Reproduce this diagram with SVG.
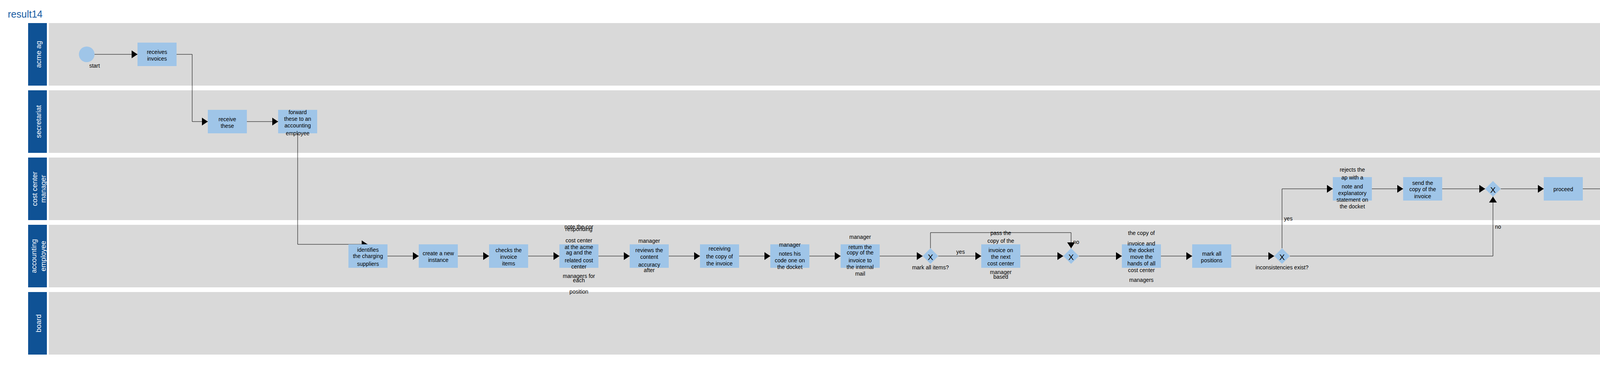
<svg xmlns="http://www.w3.org/2000/svg" width="7339" height="949" viewBox="0 0 7339 949">
<style>
.lane{fill:#d9d9d9}
.head{fill:#0f5295}
.hl{fill:#fff;font-family:"Liberation Sans",Arial,sans-serif;font-size:18px;text-anchor:middle;dominant-baseline:central}
.task{fill:#9fc5e8}
.t{font-family:"Liberation Sans",Arial,sans-serif;font-size:14px;text-anchor:middle;fill:#000}
.lbl{font-family:"Liberation Sans",Arial,sans-serif;font-size:14px;text-anchor:middle;fill:#000}
.x{font-family:"Liberation Sans",Arial,sans-serif;font-size:21px;text-anchor:middle;fill:#000}
.c{fill:none;stroke:#000;stroke-width:1;marker-end:url(#arr)}
.title{font-family:"Liberation Sans",Arial,sans-serif;font-size:25px;fill:#1a5ca3}
</style>
<defs>
<marker id="arr" markerUnits="userSpaceOnUse" markerWidth="16" markerHeight="21" refX="15" refY="10" orient="auto">
<path d="M0,0 L15,10 L0,20 Z" fill="#000"/>
</marker>
</defs>
<rect width="7339" height="949" fill="#fff"/>
<text class="title" x="20" y="45">result14</text>

<g id="lanes">
<rect class="head" x="72" y="59" width="48" height="160"/><rect class="lane" x="125" y="59" width="7196" height="160"/>
<text class="hl" transform="translate(99,139) rotate(-90)">acme ag</text>
<rect class="head" x="72" y="231" width="48" height="160"/><rect class="lane" x="125" y="231" width="7196" height="160"/>
<text class="hl" transform="translate(99,311) rotate(-90)">secretariat</text>
<rect class="head" x="72" y="403" width="48" height="160"/><rect class="lane" x="125" y="403" width="7196" height="160"/>
<text class="hl" transform="translate(89,483) rotate(-90)">cost center</text>
<text class="hl" transform="translate(111,483) rotate(-90)">manager</text>
<rect class="head" x="72" y="575" width="48" height="160"/><rect class="lane" x="125" y="575" width="7196" height="160"/>
<text class="hl" transform="translate(87,655) rotate(-90)">accounting</text>
<text class="hl" transform="translate(111,655) rotate(-90)">employee</text>
<rect class="head" x="72" y="747" width="48" height="160"/><rect class="lane" x="125" y="747" width="7196" height="160"/>
<text class="hl" transform="translate(99,827) rotate(-90)">board</text>
</g>

<g id="connectors">
<path class="c" d="M242,139 H352"/>
<path class="c" d="M452,139 H492 V311 H532"/>
<path class="c" d="M632,311 H712"/>
<path class="c" d="M762,341 V625 H941"/>
<path class="c" d="M992,655 H1072"/>
<path class="c" d="M1172,655 H1252"/>
<path class="c" d="M1352,655 H1432"/>
<path class="c" d="M1532,655 H1612"/>
<path class="c" d="M1712,655 H1792"/>
<path class="c" d="M1892,655 H1972"/>
<path class="c" d="M2072,655 H2152"/>
<path class="c" d="M2252,655 H2362"/>
<path class="c" d="M2402,655 H2512"/>
<path class="c" d="M2382,635 V595 H2742 V635"/>
<path class="c" d="M2612,655 H2722"/>
<path class="c" d="M2762,655 H2872"/>
<path class="c" d="M2972,655 H3052"/>
<path class="c" d="M3152,655 H3262"/>
<path class="c" d="M3282,635 V483 H3412"/>
<path class="c" d="M3302,655 H3822 V503"/>
<path class="c" d="M3512,483 H3592"/>
<path class="c" d="M3692,483 H3802"/>
<path class="c" d="M3842,483 H3952"/>
<path class="c" d="M4052,483 H4132"/>
<path class="c" d="M4232,483 H4312"/>
<path class="c" d="M4412,483 H4492"/>
<path class="c" d="M4592,483 H4672"/>
<path class="c" d="M4772,483 H4852"/>
<path class="c" d="M4952,483 H4992 V655 H5032"/>
<path class="c" d="M5132,655 H5212"/>
<path class="c" d="M5312,655 H5392"/>
<path class="c" d="M5492,655 H5602"/>
<path class="c" d="M5622,675 V827 H5752"/>
<path class="c" d="M5642,655 H6162 V807"/>
<path class="c" d="M5852,827 H5932"/>
<path class="c" d="M6032,827 H6142"/>
<path class="c" d="M6182,827 H6292"/>
<path class="c" d="M6392,827 H6432 V655 H6472"/>
<path class="c" d="M6572,655 H6652"/>
<path class="c" d="M6752,655 H6832"/>
<path class="c" d="M6932,655 H7012"/>
<path class="c" d="M7112,655 H7222"/>
<text class="lbl" x="2459" y="649">yes</text>
<text class="lbl" x="2755" y="624">no</text>
<text class="lbl" x="3298" y="564">yes</text>
<text class="lbl" x="3835" y="585">no</text>
<text class="lbl" x="5638" y="756">yes</text>
<text class="lbl" x="6175" y="737">no</text>
</g>

<g id="start"><circle class="task" cx="222" cy="139" r="20"/><text class="t" x="242" y="172.5">start</text></g>
<g id="n_receives"><rect class="task" x="352" y="109" width="100" height="60"/><text class="t"><tspan x="402" y="137.5">receives</tspan><tspan x="402" y="154.5">invoices</tspan></text></g>
<g id="n_receive_these"><rect class="task" x="532" y="281" width="100" height="60"/><text class="t"><tspan x="582" y="309.5">receive</tspan><tspan x="582" y="326.5">these</tspan></text></g>
<g id="n_forward"><rect class="task" x="712" y="281" width="100" height="60"/><text class="t"><tspan x="762" y="291.8">forward</tspan><tspan x="762" y="309.3">these to an</tspan><tspan x="762" y="326.3">accounting</tspan><tspan x="762" y="346.2">employee</tspan></text></g>
<g id="n_identifies"><rect class="task" x="892" y="625" width="100" height="60"/><text class="t"><tspan x="942" y="644">identifies</tspan><tspan x="942" y="660.3">the charging</tspan><tspan x="942" y="680.3">suppliers</tspan></text></g>
<g id="n_create"><rect class="task" x="1072" y="625" width="100" height="60"/><text class="t"><tspan x="1122" y="653.1">create a new</tspan><tspan x="1122" y="670">instance</tspan></text></g>
<g id="n_checks"><rect class="task" x="1252" y="625" width="100" height="60"/><text class="t"><tspan x="1302" y="644.8">checks the</tspan><tspan x="1302" y="661.8">invoice</tspan><tspan x="1302" y="678.5">items</tspan></text></g>
<g id="n_note"><rect class="task" x="1432" y="625" width="100" height="60"/><text class="t"><tspan x="1482" y="584.8">note the cor</tspan><tspan x="1482" y="591.2">responding</tspan><tspan x="1482" y="619.8">cost center</tspan><tspan x="1482" y="636.5">at the acme</tspan><tspan x="1482" y="650.5">ag and the</tspan><tspan x="1482" y="670.5">related cost</tspan><tspan x="1482" y="687.2">center</tspan><tspan x="1482" y="710.5">managers for</tspan><tspan x="1482" y="721.5">each</tspan><tspan x="1482" y="750.5">position</tspan></text></g>
<g id="n_reviews"><rect class="task" x="1612" y="625" width="100" height="60"/><text class="t"><tspan x="1662" y="620.8">manager</tspan><tspan x="1662" y="644.8">reviews the</tspan><tspan x="1662" y="661.8">content</tspan><tspan x="1662" y="681.5">accuracy</tspan><tspan x="1662" y="695.5">after</tspan></text></g>
<g id="n_receiving"><rect class="task" x="1792" y="625" width="100" height="60"/><text class="t"><tspan x="1842" y="640.5">receiving</tspan><tspan x="1842" y="660.5">the copy of</tspan><tspan x="1842" y="678.5">the invoice</tspan></text></g>
<g id="n_notes"><rect class="task" x="1972" y="625" width="100" height="60"/><text class="t"><tspan x="2022" y="630.8">manager</tspan><tspan x="2022" y="653.8">notes his</tspan><tspan x="2022" y="670.8">code one on</tspan><tspan x="2022" y="687.5">the docket</tspan></text></g>
<g id="n_return"><rect class="task" x="2152" y="625" width="100" height="60"/><text class="t"><tspan x="2202" y="610.8">manager</tspan><tspan x="2202" y="636.5">return the</tspan><tspan x="2202" y="650.5">copy of the</tspan><tspan x="2202" y="670.5">invoice to</tspan><tspan x="2202" y="687.5">the internal</tspan><tspan x="2202" y="704.5">mail</tspan></text></g>
<g id="g_mark_all"><path class="task" d="M2382,635 L2402,655 L2382,675 L2362,655 Z"/><text class="x" x="2382" y="665">X</text><text class="t" x="2382" y="688.5">mark all items?</text></g>
<g id="n_pass"><rect class="task" x="2512" y="625" width="100" height="60"/><text class="t"><tspan x="2562" y="600.8">pass the</tspan><tspan x="2562" y="620.5">copy of the</tspan><tspan x="2562" y="644.8">invoice on</tspan><tspan x="2562" y="661.8">the next</tspan><tspan x="2562" y="678.5">cost center</tspan><tspan x="2562" y="700.8">manager</tspan><tspan x="2562" y="712.8">based</tspan></text></g>
<g id="g_join1"><path class="task" d="M2742,635 L2762,655 L2742,675 L2722,655 Z"/><text class="x" x="2742" y="665">X</text></g>
<g id="n_move"><rect class="task" x="2872" y="625" width="100" height="60"/><text class="t"><tspan x="2922" y="600.8">the copy of</tspan><tspan x="2922" y="627.5">invoice and</tspan><tspan x="2922" y="644.8">the docket</tspan><tspan x="2922" y="661.8">move the</tspan><tspan x="2922" y="678.5">hands of all</tspan><tspan x="2922" y="695.5">cost center</tspan><tspan x="2922" y="720.8">managers</tspan></text></g>
<g id="n_mark"><rect class="task" x="3052" y="625" width="100" height="60"/><text class="t"><tspan x="3102" y="653.8">mark all</tspan><tspan x="3102" y="670.5">positions</tspan></text></g>
<g id="g_inconsistencies"><path class="task" d="M3282,635 L3302,655 L3282,675 L3262,655 Z"/><text class="x" x="3282" y="665">X</text><text class="t" x="3282" y="688.5">inconsistencies exist?</text></g>
<g id="n_rejects"><rect class="task" x="3412" y="453" width="100" height="60"/><text class="t"><tspan x="3462" y="438.8">rejects the</tspan><tspan x="3462" y="458.8">ap with a</tspan><tspan x="3462" y="481.5">note and</tspan><tspan x="3462" y="498.8">explanatory</tspan><tspan x="3462" y="515.5">statement on</tspan><tspan x="3462" y="532.8">the docket</tspan></text></g>
<g id="n_send1"><rect class="task" x="3592" y="453" width="100" height="60"/><text class="t"><tspan x="3642" y="472.5">send the</tspan><tspan x="3642" y="488.8">copy of the</tspan><tspan x="3642" y="506.5">invoice</tspan></text></g>
<g id="g_join2"><path class="task" d="M3822,463 L3842,483 L3822,503 L3802,483 Z"/><text class="x" x="3822" y="493">X</text></g>
<g id="n_proceed"><rect class="task" x="3952" y="453" width="100" height="60"/><text class="t" x="4002" y="488.8">proceed</text></g>
<g id="n_consults"><rect class="task" x="4132" y="453" width="100" height="60"/><text class="t"><tspan x="4182" y="472.5">consults the</tspan><tspan x="4182" y="489.8">cost center</tspan><tspan x="4182" y="508.8">managers</tspan></text></g>
<g id="n_resolve_all"><rect class="task" x="4312" y="453" width="100" height="60"/><text class="t"><tspan x="4362" y="472.5">resolve all</tspan><tspan x="4362" y="489.8">inconsistenc</tspan><tspan x="4362" y="506.5">ies</tspan></text></g>
<g id="n_send2"><rect class="task" x="4492" y="453" width="100" height="60"/><text class="t"><tspan x="4542" y="472.5">send the</tspan><tspan x="4542" y="488.8">copy of the</tspan><tspan x="4542" y="506.5">invoice</tspan></text></g>
<g id="n_continues"><rect class="task" x="4672" y="453" width="100" height="60"/><text class="t"><tspan x="4722" y="478.8">the process</tspan><tspan x="4722" y="498.8">continues</tspan></text></g>
<g id="n_all_items"><rect class="task" x="4852" y="453" width="100" height="60"/><text class="t"><tspan x="4902" y="481.5">all invoice</tspan><tspan x="4902" y="498.8">items are ap</tspan></text></g>
<g id="n_forwards"><rect class="task" x="5032" y="625" width="100" height="60"/><text class="t"><tspan x="5082" y="619.5">forwards the</tspan><tspan x="5082" y="630.5">copy of the</tspan><tspan x="5082" y="653.8">invoice to</tspan><tspan x="5082" y="670.5">the</tspan><tspan x="5082" y="687.5">commercial</tspan><tspan x="5082" y="710.8">manager</tspan></text></g>
<g id="n_makes"><rect class="task" x="5212" y="625" width="100" height="60"/><text class="t"><tspan x="5262" y="644.8">makes the</tspan><tspan x="5262" y="661.8">commercial</tspan><tspan x="5262" y="678.5">audit</tspan></text></g>
<g id="n_issue"><rect class="task" x="5392" y="625" width="100" height="60"/><text class="t"><tspan x="5442" y="644.8">issue the</tspan><tspan x="5442" y="660.5">approval for</tspan><tspan x="5442" y="680.8">payment</tspan></text></g>
<g id="g_amount"><path class="task" d="M5622,635 L5642,655 L5622,675 L5602,655 Z"/><text class="x" x="5622" y="665">X</text><text class="t" x="5622" y="688.5">the bill amount exceeds eur 20?</text></g>
<g id="n_wants"><rect class="task" x="5752" y="797" width="100" height="60"/><text class="t" x="5802" y="832.8">wants</text></g>
<g id="n_check_amount"><rect class="task" x="5932" y="797" width="100" height="60"/><text class="t" x="5982" y="832.8">check amount</text></g>
<g id="g_join3"><path class="task" d="M6162,807 L6182,827 L6162,847 L6142,827 Z"/><text class="x" x="6162" y="837">X</text></g>
<g id="n_copy_docket"><rect class="task" x="6292" y="797" width="100" height="60"/><text class="t"><tspan x="6342" y="762.5">the copy of</tspan><tspan x="6342" y="791.2">the invoice</tspan><tspan x="6342" y="802.8">including</tspan><tspan x="6342" y="825.5">the docket</tspan><tspan x="6342" y="842.5">moves the</tspan><tspan x="6342" y="862.8">appropriate</tspan><tspan x="6342" y="882.8">signature</tspan><tspan x="6342" y="893.5">file</tspan></text></g>
<g id="n_resolve_it"><rect class="task" x="6472" y="625" width="100" height="60"/><text class="t" x="6522" y="661.5">resolve it</text></g>
<g id="n_complete"><rect class="task" x="6652" y="625" width="100" height="60"/><text class="t"><tspan x="6702" y="640.5">complete the</tspan><tspan x="6702" y="661.5">commercial</tspan><tspan x="6702" y="678.5">audit</tspan></text></g>
<g id="n_gives"><rect class="task" x="6832" y="625" width="100" height="60"/><text class="t"><tspan x="6882" y="640.5">gives</tspan><tspan x="6882" y="660.5">payment</tspan><tspan x="6882" y="678.5">instructions</tspan></text></g>
<g id="n_close"><rect class="task" x="7012" y="625" width="100" height="60"/><text class="t"><tspan x="7062" y="653.8">close the</tspan><tspan x="7062" y="670.5">instance</tspan></text></g>
<g id="end"><circle class="task" cx="7242" cy="655" r="19" stroke="#000" stroke-width="2.5"/><text class="t" x="7262" y="688.5">end</text></g>
</svg>
